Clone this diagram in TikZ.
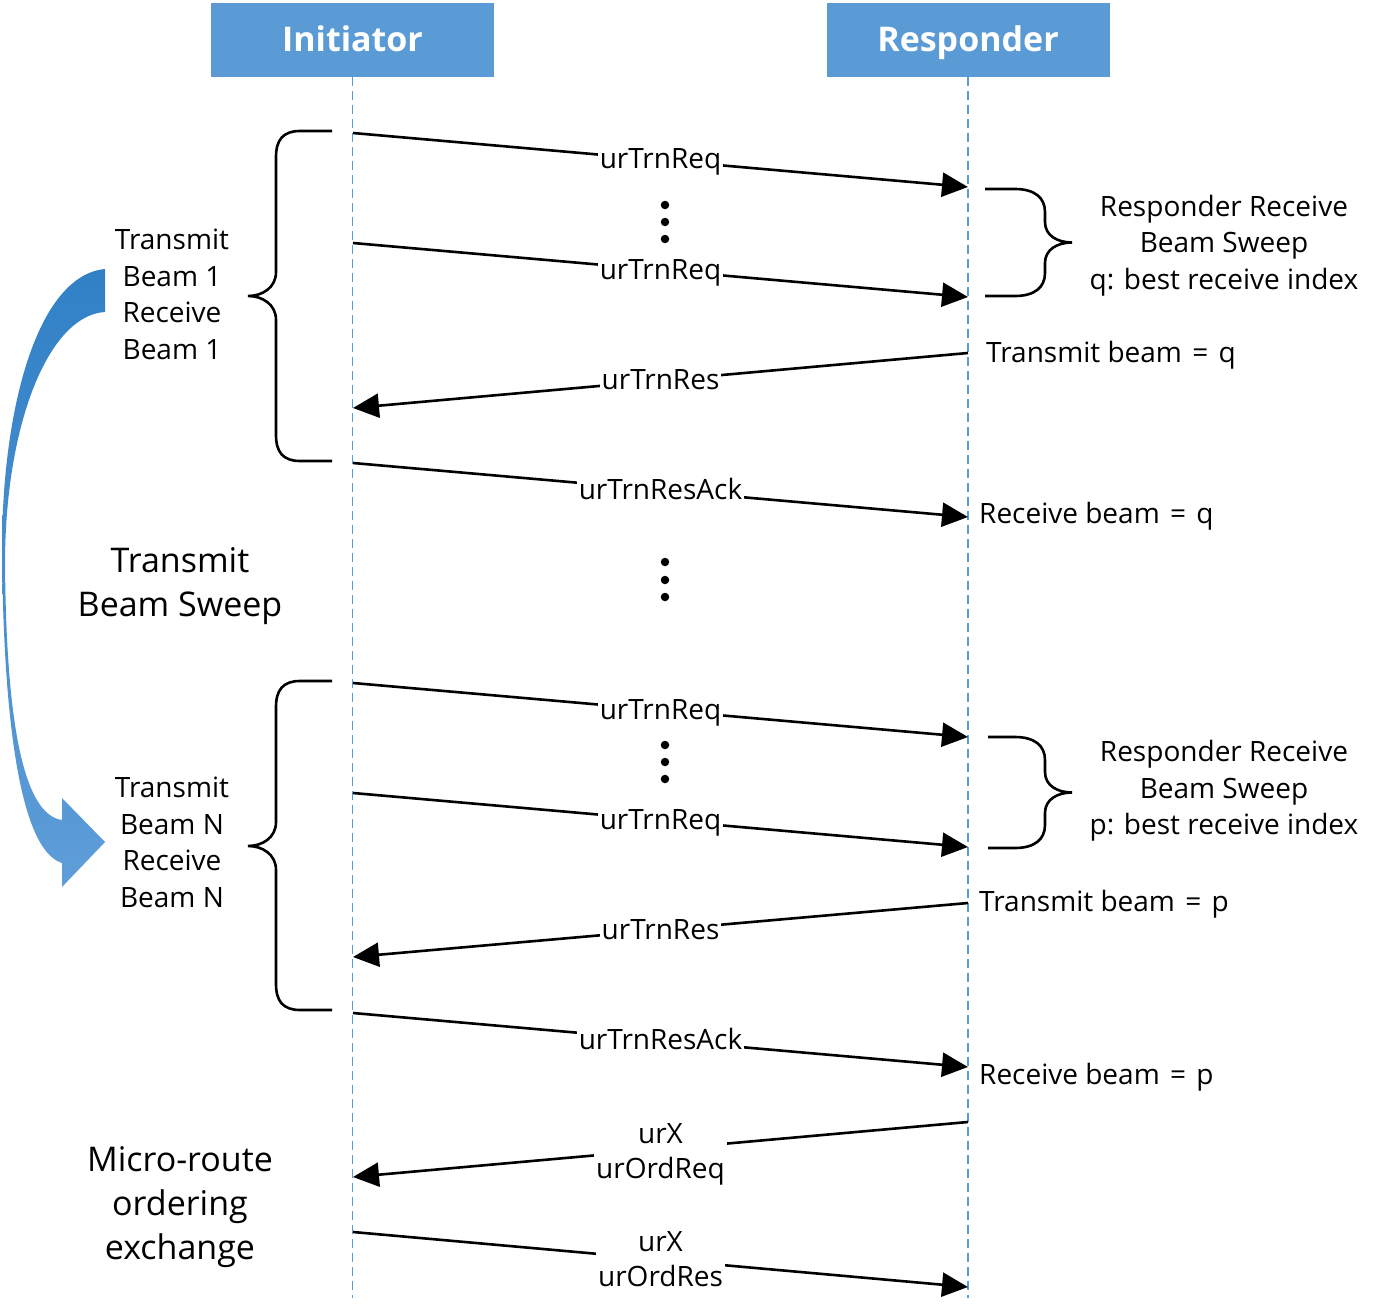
\documentclass[tikz,border=0pt]{standalone}
\usepackage{fontspec}
\setmainfont{Open Sans}
\usetikzlibrary{arrows.meta}
\definecolor{hdrblue}{HTML}{5B9BD5}
\definecolor{arrtop}{HTML}{3180C6}
\definecolor{arrbot}{HTML}{5E9DD8}
\begin{document}
\begin{tikzpicture}[x=1pt,y=-1pt,
  hdr/.style={fill=hdrblue, text=white, font=\fontsize{34}{40}\selectfont\bfseries,
    minimum width=283pt, minimum height=74pt, inner sep=0, text height=24pt, text depth=0pt},
  lifeline/.style={draw=hdrblue, line width=1.3pt, dash pattern=on 9pt off 5pt},
  msg/.style={line width=2.6pt, -{Triangle[length=26pt,width=24pt]}},
  lbl/.style={fill=white, inner xsep=2pt, inner ysep=1pt, font=\fontsize{28}{35}\selectfont},
  txt/.style={font=\fontsize{28}{36.7}\selectfont, align=center, inner sep=0},
  bigtxt/.style={font=\fontsize{34}{44}\selectfont, align=center, inner sep=0},
  note/.style={font=\fontsize{28}{36}\selectfont, inner sep=0, anchor=base west},
  brace/.style={line width=2.6pt},
  dotmark/.style={circle, fill=black, inner sep=0, minimum size=8.5pt}]
\useasboundingbox (0,0) rectangle (1377,1311);

% headers and lifelines
\node[hdr] (ini) at (352.5,40) {Initiator};
\node[hdr] (res) at (968,40) {Responder};
\coordinate (iniend) at (352.5,1298);
\coordinate (resend) at (968,1298);
\draw[lifeline] (ini.south) -- (iniend);
\draw[lifeline] (res.south) -- (resend);

% message end points
\coordinate (a1) at (353,133);  \coordinate (b1) at (968,187);
\coordinate (a2) at (353,243);  \coordinate (b2) at (968,297);
\coordinate (b3) at (968,353);  \coordinate (a3) at (353,408);
\coordinate (a4) at (353,463);  \coordinate (b4) at (968,517);
\coordinate (a5) at (353,683);  \coordinate (b5) at (968,737);
\coordinate (a6) at (353,793);  \coordinate (b6) at (968,847);
\coordinate (b7) at (968,903);  \coordinate (a7) at (353,957);
\coordinate (a8) at (353,1013); \coordinate (b8) at (968,1067);
\coordinate (b9) at (968,1122); \coordinate (a9) at (353,1177);
\coordinate (a10) at (353,1232); \coordinate (b10) at (968,1287);

% messages
\draw[msg] (a1) -- node[lbl, anchor=base, yshift=-9pt] (l1) {urTrnReq} (b1);
\draw[msg] (a2) -- node[lbl, anchor=base, yshift=-9pt] (l2) {urTrnReq} (b2);
\draw[msg] (b3) -- node[lbl, anchor=base, yshift=-9pt] (l3) {urTrnRes} (a3);
\draw[msg] (a4) -- node[lbl, anchor=base, yshift=-9pt] (l4) {urTrnResAck} (b4);
\draw[msg] (a5) -- node[lbl, anchor=base, yshift=-9pt] (l5) {urTrnReq} (b5);
\draw[msg] (a6) -- node[lbl, anchor=base, yshift=-9pt] (l6) {urTrnReq} (b6);
\draw[msg] (b7) -- node[lbl, anchor=base, yshift=-9pt] (l7) {urTrnRes} (a7);
\draw[msg] (a8) -- node[lbl, anchor=base, yshift=-9pt] (l8) {urTrnResAck} (b8);
\draw[msg] (b9) -- node[lbl, align=center, yshift=-4.5pt] (l9) {urX\\urOrdReq} (a9);
\draw[msg] (a10) -- node[lbl, align=center] (l10) {urX\\urOrdRes} (b10);

% vertical ellipses
\foreach \yy [count=\k] in {205,222,239,562,580,597,745,762,779}
  \node[dotmark] (dot\k) at (665,\yy) {};

% left braces
\draw[brace] (332,131) -- (300,131) .. controls (283,131) and (276,140) .. (276,157)
  -- (276,272) .. controls (276,288) and (262,296) .. (248,296)
  .. controls (262,296) and (276,304) .. (276,320)
  -- (276,435) .. controls (276,452) and (283,461) .. (300,461) -- (332,461);
\draw[brace] (332,681) -- (300,681) .. controls (283,681) and (276,690) .. (276,707)
  -- (276,822) .. controls (276,838) and (262,846) .. (248,846)
  .. controls (262,846) and (276,854) .. (276,870)
  -- (276,984) .. controls (276,1001) and (283,1010) .. (300,1010) -- (332,1010);

% right braces
\draw[brace] (985,189) -- (1015,189) .. controls (1035,189) and (1045,198) .. (1045,212)
  -- (1045,222) .. controls (1045,236) and (1058,242.5) .. (1072,242.5)
  .. controls (1058,242.5) and (1045,249) .. (1045,263)
  -- (1045,273) .. controls (1045,287) and (1035,296) .. (1015,296) -- (985,296);
\draw[brace] (988,737) -- (1015,737) .. controls (1035,737) and (1045,746) .. (1045,760)
  -- (1045,772) .. controls (1045,786) and (1058,792.5) .. (1072,792.5)
  .. controls (1058,792.5) and (1045,799) .. (1045,813)
  -- (1045,825) .. controls (1045,839) and (1035,848) .. (1015,848) -- (988,848);

% curved blue arrow
\shade[top color=arrtop, bottom color=arrbot]
  (105,269) .. controls (40,275) and (3,400) .. (2,545)
  .. controls (3,720) and (20,850) .. (62,863)
  -- (62,887) -- (105,842) -- (62,798) -- (62,820)
  .. controls (25,815) and (6,730) .. (5,560)
  .. controls (6,420) and (50,315) .. (105,312) -- cycle;

% left texts
\node[txt] (tb1) at (172,294.5) {Transmit\\Beam 1\\Receive\\Beam 1};
\node[txt] (tbn) at (172,842.5) {Transmit\\Beam N\\Receive\\Beam N};
\node[bigtxt] (tbs) at (180,586.5) {Transmit\\Beam Sweep};
\node[bigtxt] (mro) at (180,1207) {Micro-route\\ordering\\exchange};

% right texts
\node[txt] (rq) at (1224,245.5) {Responder Receive\\Beam Sweep\\q: best receive index};
\node[txt] (rp) at (1224,791) {Responder Receive\\Beam Sweep\\p: best receive index};
\node[note] (tq) at (986,362) {Transmit beam \hspace{3pt}=\hspace{3pt} q};
\node[note] (rcq) at (979,523) {Receive beam \hspace{3pt}=\hspace{3pt} q};
\node[note] (tp) at (979,911) {Transmit beam \hspace{3pt}=\hspace{3pt} p};
\node[note] (rcp) at (979,1084) {Receive beam \hspace{3pt}=\hspace{3pt} p};
\end{tikzpicture}
\end{document}
